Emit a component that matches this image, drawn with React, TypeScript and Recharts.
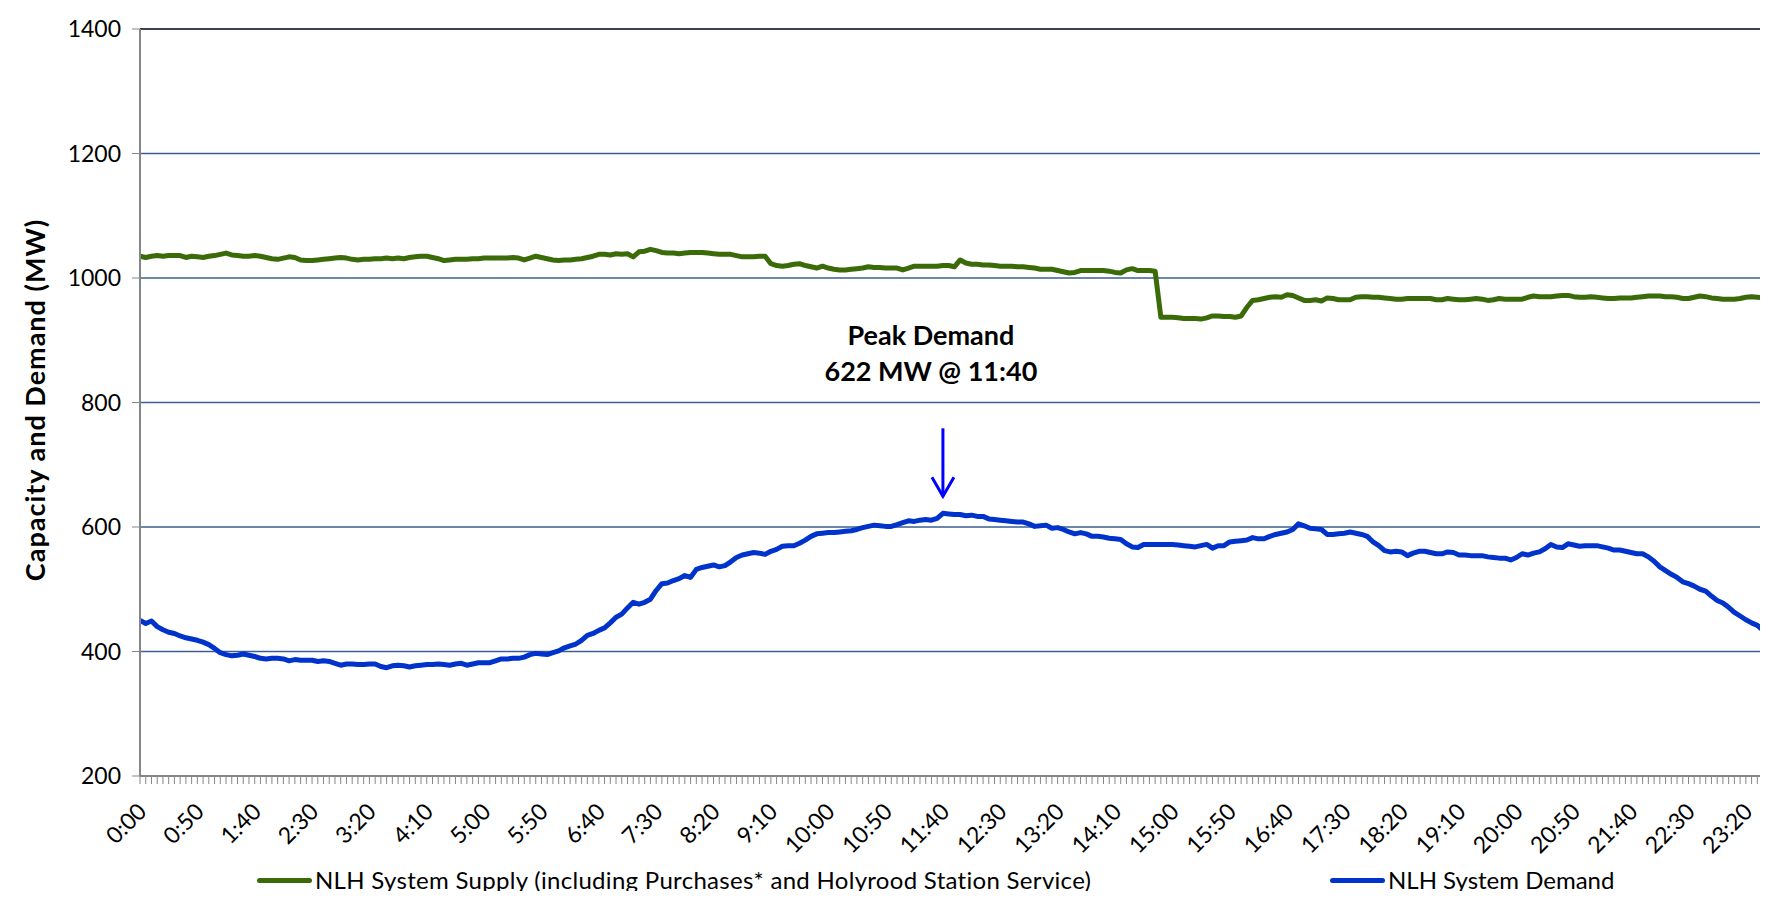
import { useEffect } from 'react';
import {
  CartesianGrid,
  Legend,
  Line,
  LineChart,
  ReferenceDot,
  ReferenceLine,
  XAxis,
  YAxis
} from 'recharts';

// 5-minute intervals over the day, 0:00 .. 23:55
const times: string[] = [];
for (let m = 0; m < 24 * 60; m += 5) {
  times.push(`${Math.floor(m / 60)}:${String(m % 60).padStart(2, '0')}`);
}

const supply = [
  1035, 1033, 1035, 1036, 1035, 1036, 1036, 1036, 1033, 1035,
  1034, 1033, 1035, 1036, 1038, 1040, 1037, 1036, 1035, 1035,
  1036, 1035, 1033, 1031, 1030, 1032, 1034, 1033, 1029, 1028,
  1028, 1029, 1030, 1031, 1032, 1033, 1032, 1030, 1029, 1030,
  1030, 1031, 1031, 1032, 1031, 1032, 1031, 1033, 1034,
  1035, 1035, 1033, 1031, 1028, 1029, 1030, 1030, 1030, 1031,
  1031, 1032, 1032, 1032, 1032, 1032, 1033, 1032, 1029, 1032,
  1035, 1033, 1031, 1029, 1028, 1029, 1029, 1030, 1031, 1033,
  1035, 1038, 1038, 1037, 1039, 1038, 1039, 1034, 1042, 1043,
  1046, 1044, 1041, 1040, 1040, 1039, 1040, 1041, 1041,
  1041, 1040, 1039, 1038, 1038, 1038, 1036, 1034, 1034, 1034,
  1035, 1035, 1023, 1020, 1019, 1020, 1022, 1023, 1020, 1018,
  1016, 1019, 1016, 1014, 1013, 1013, 1014, 1015, 1016, 1018,
  1017, 1017, 1016, 1016, 1016, 1013, 1016, 1019, 1019, 1019,
  1019, 1019, 1020, 1020, 1018, 1029, 1024, 1022, 1022,
  1021, 1021, 1020, 1019, 1019, 1019, 1018, 1018, 1017, 1016,
  1014, 1014, 1014, 1012, 1010, 1008, 1009, 1012, 1012, 1012,
  1012, 1012, 1011, 1009, 1008, 1013, 1015, 1012, 1012, 1012,
  1011, 937, 937, 937, 936, 935, 935, 935, 934, 936,
  939, 939, 938, 938, 937, 939, 953, 964, 965,
  967, 969, 970, 969, 973, 972, 968, 964, 964, 965,
  963, 968, 967, 965, 965, 965, 969, 970, 970, 969,
  969, 968, 967, 966, 966, 967, 967, 967, 967, 967,
  965, 965, 967, 966, 965, 965, 966, 967, 966, 964,
  965, 967, 966, 966, 966, 966, 969, 971, 970,
  970, 970, 971, 972, 972, 970, 969, 969, 970, 969,
  968, 967, 967, 968, 968, 968, 969, 970, 971, 971,
  971, 970, 970, 969, 967, 967, 969, 971, 970, 968,
  967, 966, 966, 966, 967, 969, 970, 969, 968, 968,
  967, 966, 965
];

const demand = [
  450, 445, 449, 440, 435, 431, 429, 425, 422, 420,
  418, 415, 411, 405, 398, 395, 393, 394, 396, 394,
  392, 389, 388, 389, 389, 388, 385, 387, 386, 386,
  386, 384, 385, 384, 381, 378, 380, 380, 379, 379,
  380, 380, 376, 374, 377, 378, 377, 375, 377,
  378, 379, 379, 380, 379, 378, 380, 381, 378, 380,
  382, 382, 382, 385, 388, 388, 389, 389, 391, 395,
  397, 396, 395, 398, 401, 406, 409, 412, 418, 426,
  429, 434, 438, 446, 455, 460, 470, 479, 476, 479,
  484, 498, 509, 510, 514, 517, 522, 519, 532,
  535, 537, 539, 536, 538, 544, 551, 555, 557, 559,
  558, 556, 561, 564, 569, 570, 570, 574, 579, 585,
  589, 590, 591, 591, 592, 593, 594, 596, 599, 601,
  603, 602, 601, 601, 604, 607, 610, 609, 611, 612,
  611, 614, 622, 621, 620, 620, 618, 619, 617,
  617, 613, 612, 611, 610, 609, 608, 608, 605, 601,
  602, 603, 598, 599, 596, 592, 589, 591, 589, 585,
  585, 584, 582, 581, 580, 573, 568, 567, 572, 572,
  572, 572, 572, 572, 571, 570, 569, 568, 570, 572,
  566, 570, 570, 576, 577, 578, 579, 583, 581,
  581, 585, 588, 590, 592, 596, 605, 602, 598, 597,
  596, 588, 588, 589, 590, 592, 590, 588, 585, 576,
  570, 562, 560, 561, 560, 554, 558, 561, 561, 559,
  557, 557, 560, 559, 555, 555, 554, 554, 554, 552,
  551, 550, 550, 547, 551, 557, 555, 558, 560,
  565, 572, 568, 567, 573, 571, 569, 570, 570, 570,
  568, 566, 563, 563, 561, 559, 557, 557, 552, 545,
  536, 530, 524, 519, 512, 509, 505, 500, 497, 489,
  482, 478, 471, 463, 457, 451, 446, 442, 434, 431,
  428, 425, 422
];

const yTicks = [200, 400, 600, 800, 1000, 1200, 1400];
const seriesNames = {
  supply: 'NLH System Supply (including Purchases* and Holyrood Station Service)',
  demand: 'NLH System Demand'
};
const peakTime = '11:40';
const peakValue = 622;

const data = times.map((t, i) => ({ time: t, supply: supply[i], demand: demand[i] }));

const FONT = 'Lato, "Open Sans", sans-serif';
const GREEN = '#3B6A08';
const BLUE = '#0033CC';

const XTick = (props: any) => {
  const { x, y, payload } = props;
  const idx = times.indexOf(payload.value);
  if (idx % 10 !== 0) return <g />;
  const tx = x + 8;
  const ty = y + 27;
  return (
    <text x={tx} y={ty} transform={`rotate(-45 ${tx} ${ty})`} textAnchor="end"
      fontFamily={FONT} fontSize={23} fill="#000">
      {payload.value}
    </text>
  );
};

const YTitle = () => (
  <text x={45} y={400} transform="rotate(-90 45 400)" textAnchor="middle"
    fontFamily={FONT} fontSize={27} fontWeight="bold" letterSpacing={1} fill="#000">
    Capacity and Demand (MW)
  </text>
);

const PeakMarker = (props: any) => {
  const { cx, cy } = props;
  if (cx == null || cy == null) return <g />;
  const tip = cy - 17;
  return (
    <g>
      <line x1={cx} y1={cy - 85} x2={cx} y2={tip} stroke="#0000FF" strokeWidth={3} />
      <polyline points={`${cx - 11},${tip - 19} ${cx},${tip} ${cx + 11},${tip - 19}`}
        fill="none" stroke="#0000FF" strokeWidth={3} />
      <text x={cx - 12} y={cy - 168} textAnchor="middle" fontFamily={FONT}
        fontSize={27} fontWeight="bold" fill="#000">Peak Demand</text>
      <text x={cx - 12} y={cy - 132} textAnchor="middle" fontFamily={FONT}
        fontSize={27} fontWeight="bold" fill="#000">{`${peakValue} MW @ ${peakTime}`}</text>
    </g>
  );
};

const legendLefts: Record<string, number> = { supply: 257, demand: 1330 };

const renderLegend = (props: any) => {
  const { payload = [] } = props;
  return (
    <div style={{ position: 'relative', width: 1768, height: 30, fontFamily: FONT, fontSize: 24, lineHeight: '30px' }}>
      {payload.map((entry: any) => (
        <div key={entry.dataKey} style={{
          position: 'absolute', left: legendLefts[entry.dataKey], top: 0, height: 30,
          display: 'flex', alignItems: 'center', whiteSpace: 'nowrap', color: '#000'
        }}>
          <span style={{ display: 'inline-block', width: 55, height: 5, borderRadius: 3, background: entry.color, marginRight: 3 }} />
          <span style={{ letterSpacing: entry.dataKey === 'supply' ? 0.3 : 0 }}>{entry.value}</span>
        </div>
      ))}
    </div>
  );
};

export default function App() {
  useEffect(() => {
    document.body.style.overflow = 'hidden';
  }, []);

  return (
    <div style={{ width: 1768, height: 899, margin: -8, overflow: 'hidden', position: 'relative', background: '#fff' }}>
      <LineChart width={1820} height={899} data={data}
        margin={{ top: 29, right: 34, left: 60, bottom: 63 }}>
        <CartesianGrid vertical={false} stroke="#3D5F8F" strokeWidth={1.5} />
        <ReferenceLine y={1400} stroke="#000" strokeWidth={1} />
        <XAxis dataKey="time" interval={0} height={60} tickSize={8}
          axisLine={{ stroke: '#868686', strokeWidth: 2 }}
          tickLine={{ stroke: '#868686', strokeWidth: 1 }}
          tick={<XTick />} />
        <YAxis domain={[200, 1400]} ticks={yTicks} width={80} tickSize={8} tickMargin={11}
          axisLine={{ stroke: '#868686', strokeWidth: 2 }}
          tickLine={{ stroke: '#868686', strokeWidth: 1 }}
          tick={{ fontFamily: FONT, fontSize: 23, fill: '#000' }}
          label={<YTitle />} />
        <Legend layout="horizontal" verticalAlign="middle" align="center"
          wrapperStyle={{ position: 'absolute', left: 0, top: 865, width: 1768, height: 30 }}
          content={renderLegend} />
        <Line type="linear" dataKey="supply" name={seriesNames.supply} stroke={GREEN}
          strokeWidth={5} dot={false} strokeLinejoin="round" isAnimationActive={false} />
        <Line type="linear" dataKey="demand" name={seriesNames.demand} stroke={BLUE}
          strokeWidth={5} dot={false} strokeLinejoin="round" isAnimationActive={false} />
        <ReferenceDot x={peakTime} y={peakValue} r={0} shape={<PeakMarker />} />
      </LineChart>
    </div>
  );
}
